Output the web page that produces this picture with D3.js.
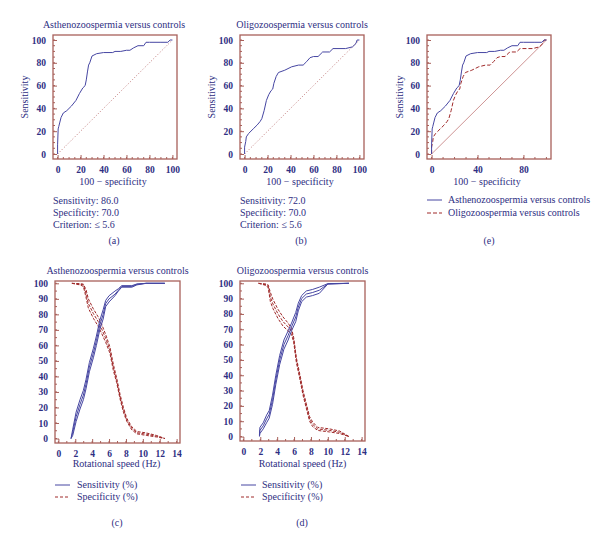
<!DOCTYPE html>
<html><head><meta charset="utf-8">
<script src="https://cdn.jsdelivr.net/npm/d3@7"></script>
<style>
html,body{margin:0;padding:0;background:#fff;}
text{font-family:"Liberation Serif","DejaVu Serif",serif;fill:#2e2e82;}
</style></head>
<body>
<svg id="c" width="600" height="549"></svg>
<script>
// ---------- DATA ----------
const rocTicksFull = [0,20,40,60,80,100];
const rocTicksE = [0,40,80];
const speedTicks = [0,2,4,6,8,10,12,14];
const pctTicks = [0,10,20,30,40,50,60,70,80,90,100];

// ROC: Asthenozoospermia versus controls (100-specificity, sensitivity)
const asthenoX = [0,0,0.5,1,2,3,5,8,12,16,19,22,24,25,26,27,28,30,34,40,48,50,55,60,63,66,70,75,77,80,90,96,98,100];
const asthenoY = [0,8,22,24,28,32,36,38,42,47,53,58,60,65,72,78,80,86,88,89,89,90,90,91,91,93,95,95,98,98,98,98,100,100];
// ROC: Oligozoospermia versus controls
const oligoX = [0,0,1,1.5,3.5,8,11,13.5,15,17,19,21,23,24.5,25.5,27.5,29.5,35,41,47,51,54,57,60,64,68,74,77,88,94,97,98,100];
const oligoY = [0,6,11,15,18,22.5,25.5,28.5,31,38,47,52,55.5,57,62,68,71.5,73.5,76.5,78,78,81,84.5,85.5,85.5,89.5,89.5,92.5,92.5,94,97,100,100];

// (c) Asthenozoospermia: sensitivity / specificity vs rotational speed (with 95% CI)
const senC_x  = [1.5,1.7,2.1,2.56,2.96,3.27,3.67,4.14,4.5,4.9,5.3,5.6,6.0,6.7,7.1,7.5,8.7,9.3,10.4,12.6];
const senC_mid = [0,4,14,22,28,35,46,55,63,73,80,87,90,93,95.5,98,98,99.4,100,100];
const senC_lo  = [0,2,11,19,25,32,43,52,60,70,77,85,88,92,95,97.5,97.5,99,100,100];
const senC_hi  = [0,6,17,25,31,38,49,58,66,76,83,89,92,95,96.5,98.5,98.5,99.6,100,100];
const speC_x  = [1.6,2.56,2.96,3.27,3.55,4.14,4.7,5.1,5.6,6.1,6.5,6.9,7.3,7.7,8.1,8.7,9.3,10.4,11.6,12.6];
const speC_mid = [100,99.4,99,93.5,87,80.5,75.5,71,64.5,57,46,37.5,27,18.5,12,6.5,3.7,2.8,1.5,0];
const speC_lo  = [100,99,98,91,84,77.5,72.5,68,62,55,44,36,25.5,17,11,5.5,3,2,1,0];
const speC_hi  = [100,99.8,99.5,96,90,83.5,78.5,74,67,59,48,39,28.5,20,13,7.5,4.5,3.6,2,0];

// (d) Oligozoospermia
const senD_x  = [1.9,1.96,2.35,2.75,3.06,3.45,3.84,4.3,4.8,5.3,5.7,6.2,6.5,6.9,7.45,8.2,9.0,10.0,12.5];
const senD_mid = [0.5,4,7,11.5,14.5,24,37,50,60,66,71.5,78,84.5,90,93,94,95.5,99.6,100];
const senD_lo  = [0,2,5,9,12,21,34,47,57,63,69,75,82,88,91,92,93.5,99.5,100];
const senD_hi  = [1,6,9,14,17,27,40,53,63,69,74,81,87,92,95,96,97.5,99.8,100];
const speD_x  = [1.8,2.75,2.94,3.2,3.5,4.1,4.7,5.3,5.7,5.96,6.27,6.67,7.06,7.45,7.84,8.2,8.8,10.2,11.4,12.5];
const speD_mid = [100,99,98,91,86.5,80,75,71.5,68.5,63,50,39.5,28.5,20,11.5,8,5,4,2.8,0];
const speD_lo  = [100,98.5,97,88,83.5,77,72,69,66.5,61.5,48.5,38,27,18.5,10,6.5,4,3,2,0];
const speD_hi  = [100,99.5,99,94,89.5,83,78,74,70.5,64.5,51.5,41,30,21.5,13,9.5,6,5,3.6,0];

// ---------- STYLE ----------
const BLUE = "#4646a2", RED = "#a02a2a", FRAME = "#a8605a", DIAG = "#c07a7a";
const FS = 10;
const svg = d3.select("#c");

function zip(xs, ys){ return xs.map((x,i)=>[x, ys[i]]); }

function panel(o){
  const g = svg.append("g");
  const x = d3.scaleLinear().domain(o.xd).range([o.l, o.r]);
  const y = d3.scaleLinear().domain(o.yd).range([o.b, o.t]);
  g.selectAll(".mx").data(o.xMinor).join("line")
    .attr("x1", d=>x(d)).attr("x2", d=>x(d)).attr("y1", o.b).attr("y2", o.b-2)
    .attr("stroke", FRAME).attr("stroke-width", 1);
  g.selectAll(".my").data(o.yMinor).join("line")
    .attr("y1", d=>y(d)).attr("y2", d=>y(d)).attr("x1", o.l).attr("x2", o.l+2)
    .attr("stroke", FRAME).attr("stroke-width", 1);
  const ax = g.append("g").attr("transform", `translate(0,${o.b})`)
    .call(d3.axisBottom(x).tickValues(o.xt).tickSize(-4).tickPadding(7).tickSizeOuter(0));
  const ay = g.append("g").attr("transform", `translate(${o.l},0)`)
    .call(d3.axisLeft(y).tickValues(o.yt).tickSize(-4).tickPadding(7).tickSizeOuter(0));
  [ax, ay].forEach(a=>{
    a.select(".domain").remove();
    a.selectAll(".tick line").attr("stroke", FRAME);
    a.selectAll(".tick text").attr("font-size", 9.5).attr("font-family", "Liberation Serif").attr("fill", "#2e2e82").attr("font-weight", "bold");
  });
  g.append("rect").attr("x", o.l).attr("y", o.t).attr("width", o.r-o.l).attr("height", o.b-o.t)
    .attr("fill", "none").attr("stroke", FRAME).attr("stroke-width", 1.3);
  if (o.title) g.append("text").attr("x", (o.l+o.r)/2 + (o.titleDx||0)).attr("y", o.t-7)
    .attr("text-anchor", "middle").attr("font-size", FS).text(o.title);
  if (o.xlabel) g.append("text").attr("x", (o.l+o.r)/2 + (o.xlDx||0)).attr("y", o.xlY)
    .attr("text-anchor", "middle").attr("font-size", FS).text(o.xlabel);
  if (o.ylabel) g.append("text").attr("transform", `translate(${o.ylX},${(o.t+o.b)/2}) rotate(-90)`)
    .attr("text-anchor", "middle").attr("font-size", FS).text(o.ylabel);
  const clip = g.append("g");
  return {g: clip, x, y};
}

function drawLine(p, pts, color, dash, w){
  const line = d3.line().x(d=>p.x(d[0])).y(d=>p.y(d[1]));
  p.g.append("path").datum(pts).attr("d", line).attr("fill", "none")
    .attr("stroke", color).attr("stroke-width", w||1)
    .attr("stroke-dasharray", dash||null);
}

function label(x, y, t, anchor){
  svg.append("text").attr("x", x).attr("y", y).attr("font-size", FS)
    .attr("text-anchor", anchor||"start").text(t);
}

const rocMinor = d3.range(0, 101, 5);
// (a)
const pa = panel({l:53, r:177, t:35, b:159, xd:[-4,104], yd:[-4.4,104.4],
  xt:rocTicksFull, yt:rocTicksFull, xMinor:rocMinor, yMinor:rocMinor,
  title:"Asthenozoospermia versus controls", titleDx:-1, xlabel:"100 − specificity", xlDx:-2, xlY:185, ylabel:"Sensitivity", ylX:28});
drawLine(pa, [[0,0],[100,100]], DIAG, "1,2", 1);
drawLine(pa, zip(asthenoX, asthenoY), BLUE, null, 1);
// (b)
const pb = panel({l:240, r:364, t:35, b:159, xd:[-4,104], yd:[-4.4,104.4],
  xt:rocTicksFull, yt:rocTicksFull, xMinor:rocMinor, yMinor:rocMinor,
  title:"Oligozoospermia versus controls", xlabel:"100 − specificity", xlDx:-2, xlY:185, ylabel:"Sensitivity", ylX:215});
drawLine(pb, [[0,0],[100,100]], DIAG, "1,2", 1);
drawLine(pb, zip(oligoX, oligoY), BLUE, null, 1);
// (e)
const pe = panel({l:427, r:551, t:35, b:159, xd:[-4,104], yd:[-4.4,104.4],
  xt:rocTicksE, yt:rocTicksFull, xMinor:d3.range(0,101,10), yMinor:rocMinor,
  xlabel:"100 − specificity", xlDx:-2, xlY:185, ylabel:"Sensitivity", ylX:403});
drawLine(pe, [[0,0],[100,100]], "#c88888", null, 0.9);
drawLine(pe, zip(oligoX, oligoY), RED, "4,2", 1);
drawLine(pe, zip(asthenoX, asthenoY), BLUE, null, 1);

// texts under (a),(b)
label(53, 204, "Sensitivity: 86.0"); label(53, 216, "Specificity: 70.0"); label(53, 228, "Criterion: ≤ 5.6");
label(240, 204, "Sensitivity: 72.0"); label(240, 216, "Specificity: 70.0"); label(240, 228, "Criterion: ≤ 5.6");
label(114, 244, "(a)", "middle"); label(301, 244, "(b)", "middle"); label(489, 244, "(e)", "middle");

// legend (e)
svg.append("line").attr("x1",427).attr("x2",442).attr("y1",200).attr("y2",200).attr("stroke",BLUE).attr("stroke-width",1);
svg.append("line").attr("x1",427).attr("x2",442).attr("y1",213).attr("y2",213).attr("stroke",RED).attr("stroke-width",1).attr("stroke-dasharray","4,2");
label(448, 203, "Asthenozoospermia versus controls");
label(448, 216, "Oligozoospermia versus controls");

// (c)
const speedMinor = d3.range(0, 15, 1), pctMinor = d3.range(0, 101, 5);
const pc = panel({l:55, r:180, t:281, b:443, xd:[-0.4,14.4], yd:[-2.9,101.5],
  xt:speedTicks, yt:pctTicks, xMinor:speedMinor, yMinor:pctMinor,
  title:"Asthenozoospermia versus controls", titleDx:0, xlabel:"Rotational speed (Hz)", xlDx:-1, xlY:467});
[speC_lo, speC_hi, speC_mid].forEach(a=>drawLine(pc, zip(speC_x, a), RED, "3,1.5", 1));
[senC_lo, senC_hi, senC_mid].forEach(a=>drawLine(pc, zip(senC_x, a), BLUE, null, 1));
// (d)
const pd = panel({l:240, r:365, t:281, b:441, xd:[-0.4,14.4], yd:[-2.9,101.5],
  xt:speedTicks, yt:pctTicks, xMinor:speedMinor, yMinor:pctMinor,
  title:"Oligozoospermia versus controls", titleDx:0, xlabel:"Rotational speed (Hz)", xlDx:0, xlY:467});
[speD_lo, speD_hi, speD_mid].forEach(a=>drawLine(pd, zip(speD_x, a), RED, "3,1.5", 1));
[senD_lo, senD_hi, senD_mid].forEach(a=>drawLine(pd, zip(senD_x, a), BLUE, null, 1));

// legends (c),(d)
[[55,77],[241,262]].forEach(([lx,tx])=>{
  svg.append("line").attr("x1",lx).attr("x2",lx+15).attr("y1",485).attr("y2",485).attr("stroke",BLUE).attr("stroke-width",1);
  svg.append("line").attr("x1",lx).attr("x2",lx+15).attr("y1",497).attr("y2",497).attr("stroke",RED).attr("stroke-width",1).attr("stroke-dasharray","3,2");
  label(tx, 488, "Sensitivity (%)");
  label(tx, 500, "Specificity (%)");
});
label(117, 526, "(c)", "middle"); label(302, 526, "(d)", "middle");
</script>
</body></html>
